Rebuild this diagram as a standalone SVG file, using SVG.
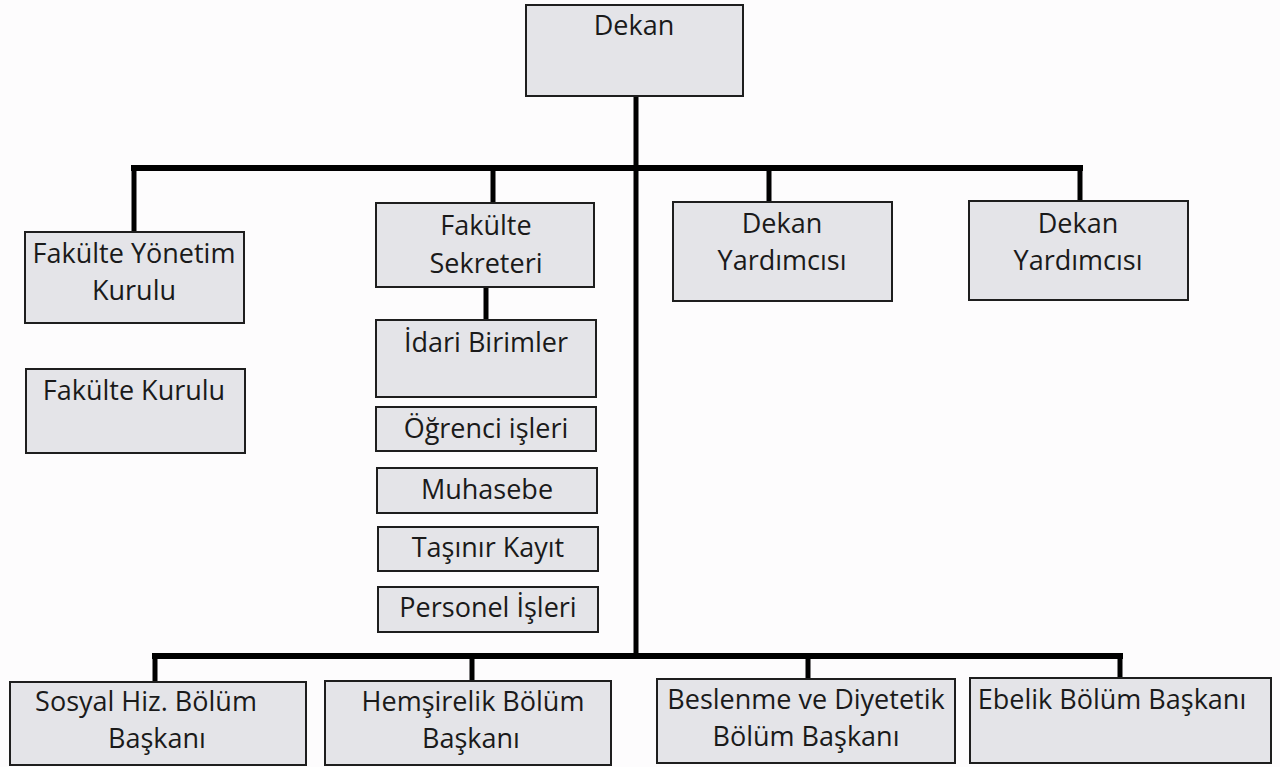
<svg xmlns="http://www.w3.org/2000/svg" width="1280" height="767" viewBox="0 0 1280 767">
<style>
.box{fill:#e4e4e8;stroke:#1e1e1e;stroke-width:2}
.t{font-family:"Open Sans","Noto Sans","Liberation Sans",sans-serif;font-size:27px;fill:#1a1a1a;text-anchor:middle}
.c{stroke:#000;fill:none;stroke-linecap:square}
</style>
<rect width="1280" height="767" fill="#fdfcfd"/>
<g id="connectors">
<line class="c" x1="636" y1="96" x2="636" y2="656" stroke-width="5"/>
<line class="c" x1="134" y1="168" x2="1080" y2="168" stroke-width="6"/>
<line class="c" x1="134" y1="168" x2="134" y2="232" stroke-width="5"/>
<line class="c" x1="493" y1="168" x2="493" y2="203" stroke-width="5"/>
<line class="c" x1="769" y1="168" x2="769" y2="202" stroke-width="5"/>
<line class="c" x1="1080" y1="168" x2="1080" y2="201" stroke-width="5"/>
<line class="c" x1="486" y1="287" x2="486" y2="320" stroke-width="5"/>
<line class="c" x1="155" y1="656" x2="1120" y2="656" stroke-width="6"/>
<line class="c" x1="155" y1="656" x2="155" y2="682" stroke-width="5"/>
<line class="c" x1="472" y1="656" x2="472" y2="681" stroke-width="5"/>
<line class="c" x1="808" y1="656" x2="808" y2="679" stroke-width="5"/>
<line class="c" x1="1120" y1="656" x2="1120" y2="678" stroke-width="5"/>
</g>
<g id="dekan"><rect class="box" x="526" y="5" width="217" height="91"/><text class="t" x="634" y="35">Dekan</text></g>
<g id="fakulte-yonetim-kurulu"><rect class="box" x="25" y="232" width="219" height="91"/><text class="t" x="134" y="263">Fakülte Yönetim</text><text class="t" x="134" y="300">Kurulu</text></g>
<g id="fakulte-kurulu"><rect class="box" x="26" y="369" width="219" height="84"/><text class="t" x="134" y="400">Fakülte Kurulu</text></g>
<g id="fakulte-sekreteri"><rect class="box" x="376" y="203" width="218" height="84"/><text class="t" x="486" y="235">Fakülte</text><text class="t" x="486" y="273">Sekreteri</text></g>
<g id="dekan-yardimcisi-1"><rect class="box" x="673" y="202" width="219" height="99"/><text class="t" x="782" y="233">Dekan</text><text class="t" x="782" y="270">Yardımcısı</text></g>
<g id="dekan-yardimcisi-2"><rect class="box" x="969" y="201" width="219" height="99"/><text class="t" x="1078" y="233">Dekan</text><text class="t" x="1078" y="270">Yardımcısı</text></g>
<g id="idari-birimler"><rect class="box" x="376" y="320" width="220" height="77"/><text class="t" x="486" y="352">İdari Birimler</text></g>
<g id="ogrenci-isleri"><rect class="box" x="376" y="407" width="220" height="44"/><text class="t" x="486" y="438">Öğrenci işleri</text></g>
<g id="muhasebe"><rect class="box" x="377" y="468" width="220" height="45"/><text class="t" x="487" y="499">Muhasebe</text></g>
<g id="tasinir-kayit"><rect class="box" x="378" y="527" width="220" height="44"/><text class="t" x="488" y="557">Taşınır Kayıt</text></g>
<g id="personel-isleri"><rect class="box" x="378" y="587" width="220" height="45"/><text class="t" x="488" y="617">Personel İşleri</text></g>
<g id="sosyal-hiz"><rect class="box" x="10" y="682" width="296" height="83"/><text class="t" x="146" y="711">Sosyal Hiz. Bölüm</text><text class="t" x="157" y="748">Başkanı</text></g>
<g id="hemsirelik"><rect class="box" x="325" y="681" width="286" height="84"/><text class="t" x="473" y="711">Hemşirelik Bölüm</text><text class="t" x="471" y="748">Başkanı</text></g>
<g id="beslenme"><rect class="box" x="657" y="679" width="298" height="84"/><text class="t" x="806" y="709">Beslenme ve Diyetetik</text><text class="t" x="806" y="746">Bölüm Başkanı</text></g>
<g id="ebelik"><rect class="box" x="970" y="678" width="301" height="85"/><text class="t" x="1112" y="709">Ebelik Bölüm Başkanı</text></g>
</svg>
